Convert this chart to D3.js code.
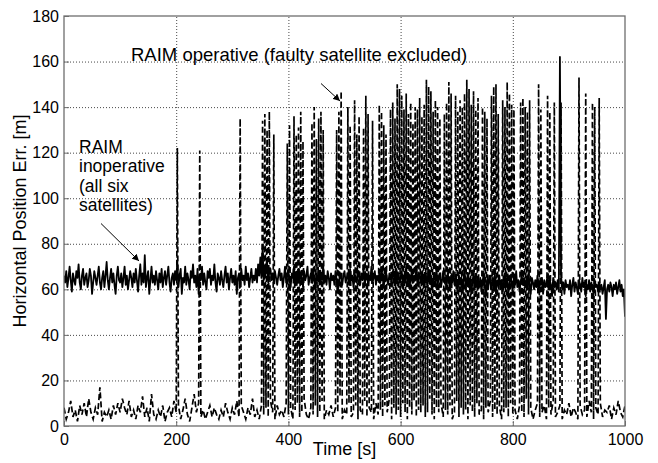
<!DOCTYPE html>
<html>
<head>
<meta charset="utf-8">
<script src="https://cdn.jsdelivr.net/npm/d3@7/dist/d3.min.js"></script>
<style>
    body { margin: 0; background: #fff; }
    svg text { font-family: "Liberation Sans", Arial, sans-serif; fill: #000; }
</style>
</head>
<body>
<script>
//tick labels
var xTicks = [0, 200, 400, 600, 800, 1000];
var yTicks = [0, 20, 40, 60, 80, 100, 120, 140, 160, 180];

//RAIM inoperative (all six satellites), one sample every 2 s from t = 0
var solidStep = 2;
var solidErr = [
    66,63,68,61,65,70,64,59,67,64, 62,68,65,71,63,60,66,69,62,65,
    67,61,64,69,66,58,63,68,65,62, 66,70,63,60,65,68,61,66,72,64,
    60,65,69,63,67,62,58,66,70,64, 63,67,61,65,70,62,66,60,64,68,
    65,61,67,63,69,64,59,66,71,62, 67,63,75,61,65,68,58,64,70,63,
    66,62,68,64,60,67,63,69,61,65, 68,62,66,70,63,59,65,67,62,68,
    64,72,61,66,69,58,65,63,70,62, 67,64,60,68,65,71,63,66,61,69,
    58,66,64,70,62,67,63,60,68,65, 69,62,66,64,71,63,59,67,65,62,
    68,64,61,66,70,63,67,60,65,69, 63,66,62,68,58,65,67,61,69,64,
    66,62,70,64,67,61,65,69,63,66, 64,69,63,71,66,74,65,78,64,70,
    67,72,63,68,69,64,67,63,68,65, 62,66,69,64,67,61,65,70,63,66,
    68,64,61,67,65,70,62,66,64,69, 63,67,65,61,68,64,66,70,62,65,
    67,63,69,65,61,66,64,68,62,67, 64,70,63,66,62,68,65,60,67,64,
    66,62,68,64,59,63,67,65,62,66, 68,63,65,67,62,69,64,66,61,67,
    65,63,68,66,62,67,64,69,63,65, 67,62,66,64,70,63,65,68,62,66,
    64,67,63,69,65,61,66,68,64,62, 67,65,63,68,66,62,69,64,67,63,
    65,68,62,66,64,70,63,67,61,65, 68,63,66,64,69,62,65,67,63,66,
    64,61,67,65,62,68,63,66,60,64, 66,63,69,62,65,67,61,64,68,63,
    65,62,67,64,60,66,63,68,62,65, 63,60,66,62,65,59,64,68,61,63,
    66,61,64,58,63,67,60,65,62,64, 61,65,59,63,67,62,57,64,60,66,
    63,60,65,61,67,58,64,62,66,60, 64,59,63,67,61,65,58,62,66,63,
    60,65,62,68,61,64,59,63,66,62, 65,61,64,60,67,62,58,65,63,60,
    64,61,66,59,63,62,65,58,64,61, 63,66,60,64,62,57,65,61,63,60,
    64,59,162,66,60,63,58,64,61,62, 60,64,57,62,65,59,63,61,58,64,
    62,59,65,61,63,57,62,60,64,59, 63,60,58,64,61,62,59,63,60,62,
    58,61,64,47,60,62,59,63,61,57, 62,60,63,58,61,64,59,62,57,60,
    48
];

//RAIM operative, low level error every 4 s from t = 0
var dashStep = 4;
var dashBase = [
    8,3,6,11,4,7,2,9,5,10, 4,12,6,3,8,5,17,2,6,4,
    7,3,9,5,10,6,12,8,5,11, 4,7,3,9,6,13,4,8,2,14,
    5,3,7,4,9,2,6,8,4,11, 6,9,3,7,12,5,2,8,14,6,
    10,4,7,3,6,9,4,8,5,3, 7,4,10,6,3,8,5,11,4,9,
    6,3,8,5,12,4,7,3,9,5, 8,4,11,6,3,9,5,7,4,10,
    5,8,3,7,10,4,6,12,5,3, 8,5,9,4,6,11,3,7,5,9,
    4,8,6,13,3,7,5,10,4,6, 9,3,7,5,11,4,8,6,3,10,
    5,7,4,9,6,12,3,8,5,7, 4,10,6,3,8,5,11,4,7,6,
    9,4,6,12,5,3,8,6,10,4, 7,5,9,3,6,11,4,8,5,7,
    3,9,6,4,10,5,7,3,8,6, 11,4,7,5,9,3,6,8,4,10,
    5,7,3,9,6,4,12,5,8,3, 7,10,4,6,9,3,8,5,11,4,
    6,9,3,7,5,10,4,8,6,3, 9,5,7,4,11,6,3,8,5,10,
    4,7,6,9,3,8,5,11,6,4, 9
];

//spikes of the RAIM operative error (time [s], peak [m])
var spikeT = [
    202, 242, 314, 354, 358, 362, 366, 374,
    398, 402, 410, 414, 418, 422, 426,
    442, 446, 450, 454, 458, 462, 486, 490, 494,
    506, 510, 518, 522, 526, 534, 538, 542, 550,
    562, 566, 570, 574, 582, 586, 590, 594, 598,
    602, 606, 610, 614, 618, 622, 626, 630,
    634, 638, 642, 646, 650, 654, 658, 662, 666, 670,
    678, 682, 686, 690, 698, 702, 706, 710, 714, 718, 722,
    726, 730, 734, 738, 746, 750, 754, 762, 766, 770, 774,
    782, 786, 790, 794, 798, 802, 814, 818, 822, 826, 830,
    846, 850, 862, 866, 874, 886, 918, 930, 942, 946, 954
];
var spikePeak = [
    122, 121, 135, 134, 137, 130, 138, 128,
    124, 132, 136, 128, 131, 138, 125,
    133, 140, 126, 135, 138, 130, 130, 138, 147,
    140, 132, 143, 128, 136, 131, 145, 137, 134,
    141, 138, 132, 128, 139, 142, 135, 150, 148,
    145, 139, 146, 137, 142, 133, 140, 139,
    144, 136, 141, 152, 149, 147, 138, 143, 140, 135,
    137, 142, 151, 146, 145, 138, 143, 140, 146, 152, 148,
    141, 147, 139, 144, 140, 138, 135, 145, 149, 150, 137,
    143, 140, 151, 146, 141, 139, 142, 144, 140, 138, 143,
    150, 139, 145, 138, 142, 142, 153, 146, 142, 140, 144
];

window.onload = function(){
    //SVG dimension variables
    var w = 658, h = 463;
    var left = 64, right = 625, top = 16, bottom = 426;

    var svg = d3.select("body")
        .append("svg")
        .attr("width", w)
        .attr("height", h);

    //scales
    var x = d3.scaleLinear().domain([0, 1000]).range([left, right]);
    var y = d3.scaleLinear().domain([0, 180]).range([bottom, top]);

    //dotted grid
    svg.append("g")
        .attr("transform", "translate(0," + bottom + ")")
        .call(d3.axisBottom(x).tickValues(xTicks.slice(1, -1)).tickSize(-(bottom - top)).tickFormat(""))
        .call(function(g){ g.select(".domain").remove(); })
        .selectAll("line")
        .attr("stroke", "#333")
        .attr("stroke-width", 0.9)
        .attr("stroke-dasharray", "1,2");

    svg.append("g")
        .attr("transform", "translate(" + left + ",0)")
        .call(d3.axisLeft(y).tickValues(yTicks.slice(1, -1)).tickSize(-(right - left)).tickFormat(""))
        .call(function(g){ g.select(".domain").remove(); })
        .selectAll("line")
        .attr("stroke", "#333")
        .attr("stroke-width", 0.9)
        .attr("stroke-dasharray", "1,2");

    //clip the series to the axes box
    svg.append("clipPath")
        .attr("id", "plotArea")
        .append("rect")
        .attr("x", left)
        .attr("y", top)
        .attr("width", right - left)
        .attr("height", bottom - top);

    var line = d3.line()
        .x(function(d){ return x(d[0]); })
        .y(function(d){ return y(d[1]); });

    //RAIM operative: low level plus spikes, sorted in time
    var dashPts = dashBase.map(function(v, i){ return [i * dashStep, v]; })
        .concat(spikeT.map(function(t, i){ return [t, spikePeak[i]]; }))
        .sort(function(a, b){ return a[0] - b[0]; });

    svg.append("path")
        .datum(dashPts)
        .attr("clip-path", "url(#plotArea)")
        .attr("d", line)
        .attr("fill", "none")
        .attr("stroke", "#000")
        .attr("stroke-width", 1.7)
        .attr("stroke-dasharray", "6,3");

    //RAIM inoperative
    var solidPts = solidErr.map(function(v, i){ return [i * solidStep, v]; });

    svg.append("path")
        .datum(solidPts)
        .attr("clip-path", "url(#plotArea)")
        .attr("d", line)
        .attr("fill", "none")
        .attr("stroke", "#000")
        .attr("stroke-width", 1.8)
        .attr("stroke-linejoin", "round");

    //axes box
    svg.append("rect")
        .attr("x", left)
        .attr("y", top)
        .attr("width", right - left)
        .attr("height", bottom - top)
        .attr("fill", "none")
        .attr("stroke", "#6e6e6e")
        .attr("stroke-width", 1.3);

    //tick labels (inward ticks like matlab)
    var xAxis = svg.append("g")
        .attr("transform", "translate(0," + bottom + ")")
        .call(d3.axisBottom(x).tickValues(xTicks).tickFormat(d3.format("d"))
            .tickSizeInner(-5).tickSizeOuter(0).tickPadding(7.5));
    var yAxis = svg.append("g")
        .attr("transform", "translate(" + left + ",0)")
        .call(d3.axisLeft(y).tickValues(yTicks).tickFormat(d3.format("d"))
            .tickSizeInner(-5).tickSizeOuter(0).tickPadding(5));

    [xAxis, yAxis].forEach(function(g){
        g.select(".domain").remove();
        g.attr("font-family", null).attr("font-size", null);
        g.selectAll("line").attr("stroke", "#6e6e6e");
        g.selectAll("text").style("font-size", "16px");
    });

    //axis titles
    svg.append("text")
        .attr("x", (left + right) / 2)
        .attr("y", 455)
        .attr("text-anchor", "middle")
        .style("font-size", "18px")
        .text("Time [s]");

    svg.append("text")
        .attr("transform", "translate(26," + ((top + bottom) / 2) + ") rotate(-90)")
        .attr("text-anchor", "middle")
        .style("font-size", "18px")
        .text("Horizontal Position Err. [m]");

    //annotations
    svg.append("defs").append("marker")
        .attr("id", "head")
        .attr("viewBox", "0 0 10 10")
        .attr("refX", 10)
        .attr("refY", 5)
        .attr("markerWidth", 7)
        .attr("markerHeight", 7)
        .attr("markerUnits", "userSpaceOnUse")
        .attr("orient", "auto")
        .append("path")
        .attr("d", "M0,0L10,5L0,10z")
        .attr("fill", "#000");

    svg.append("text")
        .attr("x", 131)
        .attr("y", 61)
        .style("font-size", "18.5px")
        .text("RAIM operative (faulty satellite excluded)");

    svg.append("line")
        .attr("x1", 321).attr("y1", 83.5)
        .attr("x2", 340).attr("y2", 101)
        .attr("stroke", "#000")
        .attr("stroke-width", 1)
        .attr("marker-end", "url(#head)");

    var inop = ["RAIM", "inoperative", "(all six", "satellites)"];
    svg.selectAll(".inop")
        .data(inop)
        .enter()
        .append("text")
        .attr("class", "inop")
        .attr("x", 79)
        .attr("y", function(d, i){ return 152.5 + i * 19.5; })
        .style("font-size", "17.5px")
        .text(function(d){ return d; });

    svg.append("line")
        .attr("x1", 101).attr("y1", 223.5)
        .attr("x2", 139).attr("y2", 261)
        .attr("stroke", "#000")
        .attr("stroke-width", 1)
        .attr("marker-end", "url(#head)");
};
</script>
</body>
</html>
